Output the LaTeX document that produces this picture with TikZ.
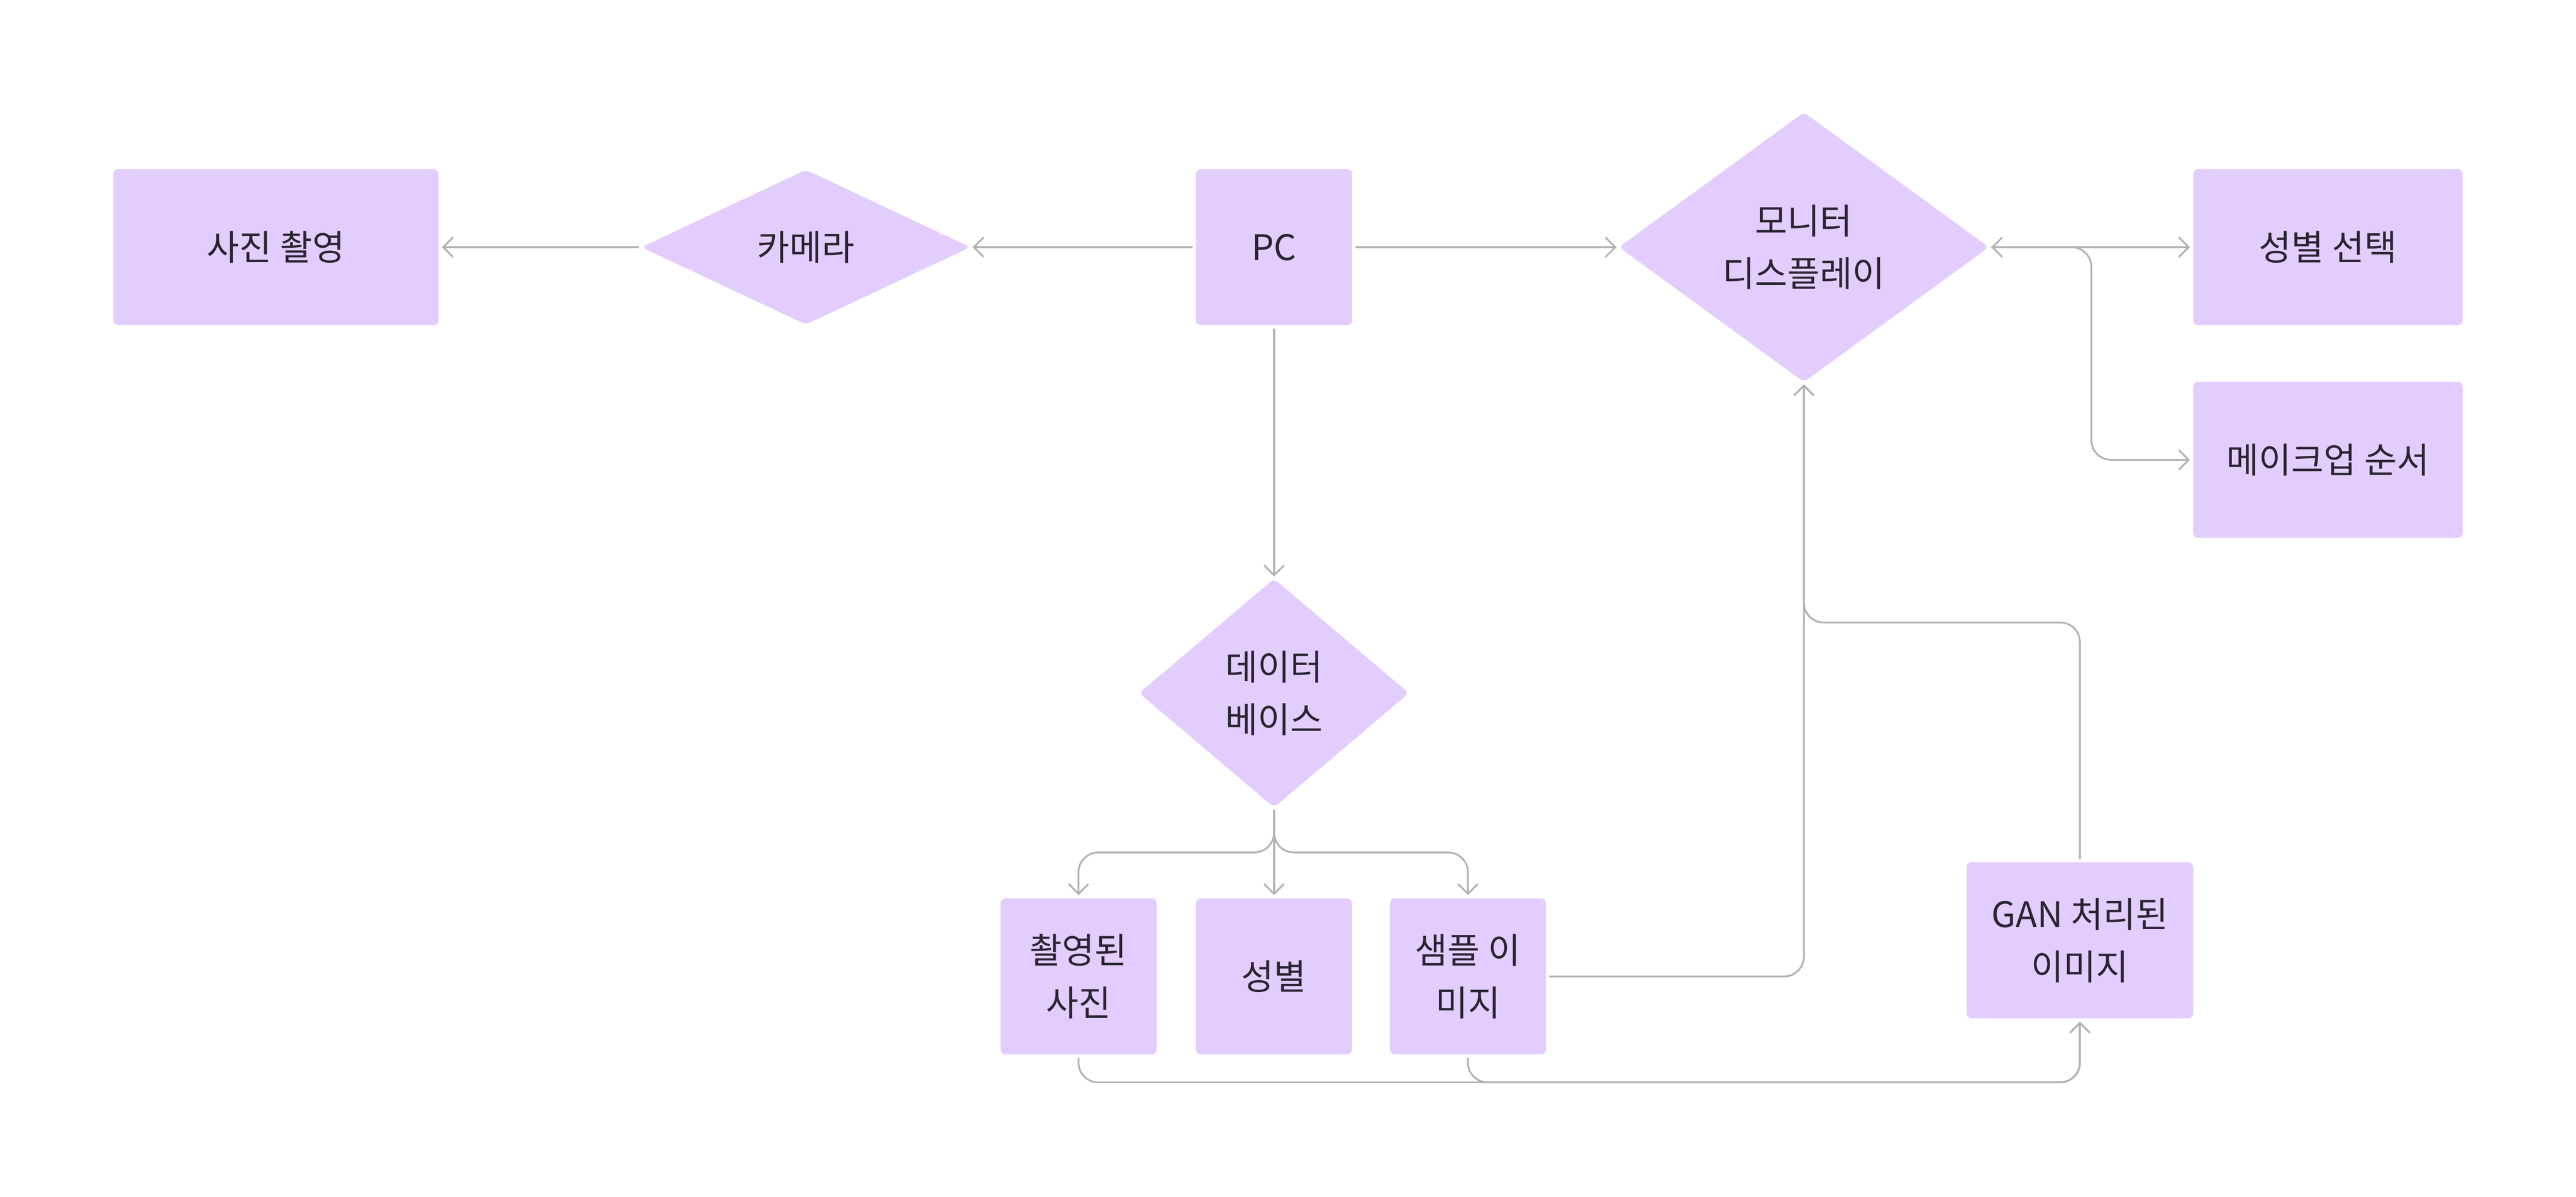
\documentclass[tikz,border=0pt]{standalone}
\usepackage{fontspec}
\setmainfont{Noto Sans CJK KR}
\usetikzlibrary{arrows.meta,shapes.geometric,calc}
\definecolor{boxfill}{HTML}{E3CDFE}
\definecolor{linec}{HTML}{B2B2B2}
\definecolor{txt}{HTML}{2A2430}
\begin{document}
\begin{tikzpicture}[x=1pt,y=-1pt,
  lbl/.style={align=center, text=txt, font=\fontsize{21.5}{32}\selectfont, inner sep=0pt, outer sep=2pt},
  box/.style={lbl, rectangle, fill=boxfill, rounded corners=3pt, minimum width=95pt, minimum height=95pt},
  dia/.style={lbl, diamond, fill=boxfill, rounded corners=3pt, outer sep=1pt},
  conn/.style={draw=linec, line width=1.1pt, rounded corners=12pt},
  arr/.style={-{Straight Barb[length=6pt,width=12pt]}},
  darr/.style={{Straight Barb[length=6pt,width=12pt]}-{Straight Barb[length=6pt,width=12pt]}}]
\useasboundingbox (0,0) rectangle (1568,728.8);
% nodes
\node[box, minimum width=198pt] (photo) at (168,150.5) {사진 촬영};
\node[dia, minimum width=201pt, minimum height=95pt] (cam) at (490.5,150.5) {카메라};
\node[box] (pc) at (775.5,150.5) {PC};
\node[dia, minimum width=226pt, minimum height=165pt] (mon) at (1098,150.5) {모니터\\디스플레이};
\node[box, minimum width=164pt] (sel) at (1417,150.5) {성별 선택};
\node[box, minimum width=164pt] (mk) at (1417,280) {메이크업 순서};
\node[dia, minimum width=165pt, minimum height=140pt] (db) at (775.5,422) {데이터\\베이스};
\node[box] (shot) at (656.5,594.5) {촬영된\\사진};
\node[box] (gen) at (775.5,594.5) {성별};
\node[box] (smp) at (893.5,594.5) {샘플 이\\미지};
\node[box, minimum width=138pt] (gan) at (1266,572.5) {GAN 처리된\\이미지};
% junction points
\coordinate (jr) at (1273,280);
\coordinate (jd) at (775.5,519);
\coordinate (jm) at (1098,379);
\coordinate (jb) at (1266,659);
% connectors
\draw[conn,arr] (pc.west) -- (cam.east);
\draw[conn,arr] (cam.west) -- (photo.east);
\draw[conn,arr] (pc.east) -- (mon.west);
\draw[conn,arr] (pc.south) -- (db.north);
\draw[conn,darr] (mon.east) -- (sel.west);
\draw[conn,arr] (mon.east) -| (jr) -- (mk.west);
\draw[conn,arr] (db.south) -- (jd) -| (shot.north);
\draw[conn,arr] (db.south) -- (gen.north);
\draw[conn,arr] (db.south) -- (jd) -| (smp.north);
\draw[conn,arr] (smp.east) -| (mon.south);
\draw[conn,arr] (gan.north) |- (jm) -- (mon.south);
\draw[conn,arr] (shot.south) |- (jb) -- (gan.south);
\draw[conn,arr] (smp.south) |- (jb) -- (gan.south);
\end{tikzpicture}
\end{document}
